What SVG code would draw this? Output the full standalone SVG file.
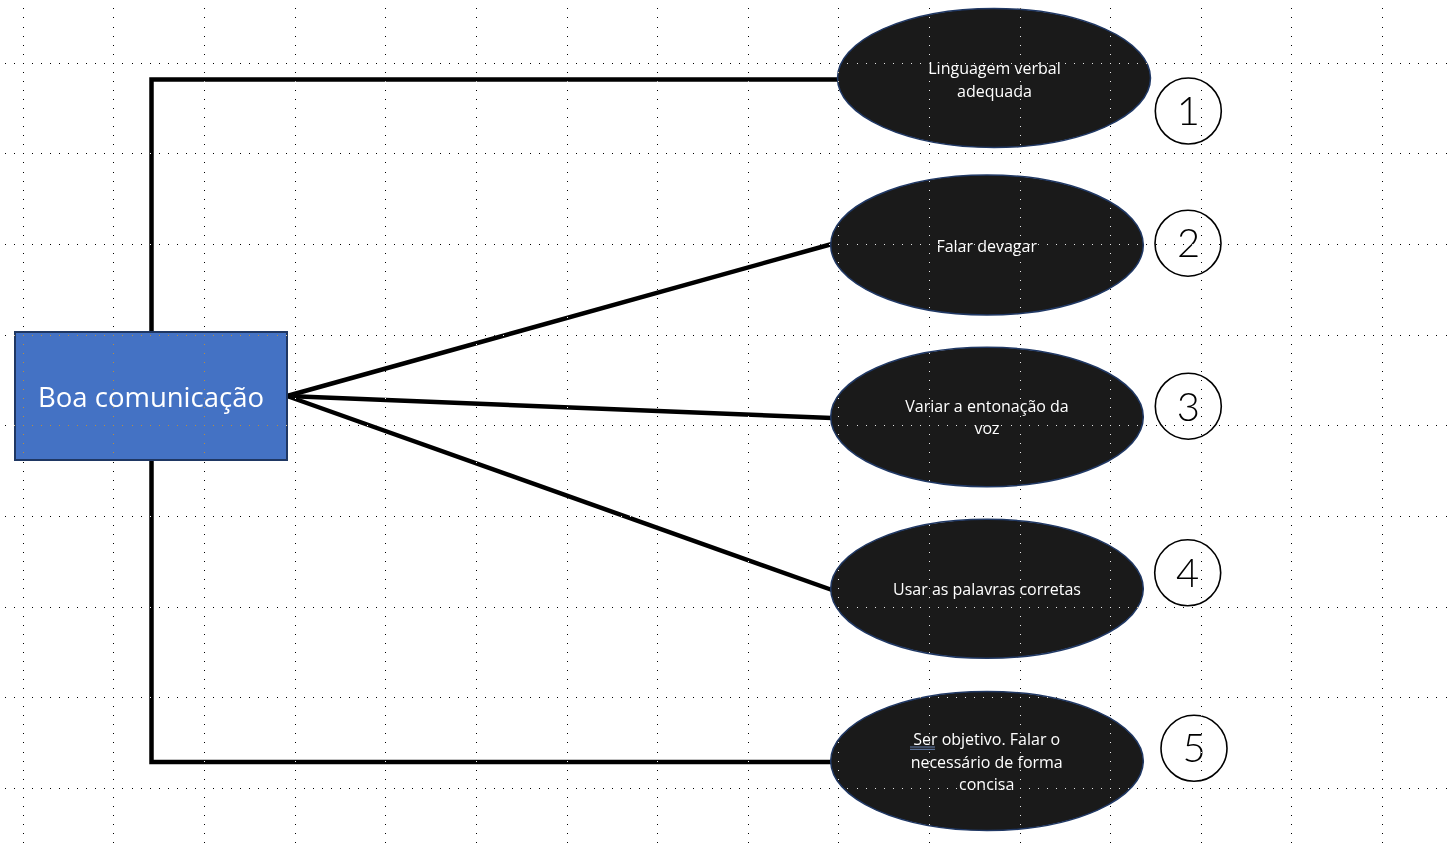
<svg xmlns="http://www.w3.org/2000/svg" width="1450" height="843" viewBox="0 0 1450 843">
<style>
.conn{fill:none;stroke:#000;stroke-width:4.5;stroke-linejoin:miter}
.oval{fill:#1a1a1a;stroke:#203864;stroke-width:1.5}
.otxt{font-family:"Open Sans","Noto Sans",sans-serif;font-size:16px;fill:#fff;text-anchor:middle}
.num{fill:#fff;stroke:#000;stroke-width:1.6}
.ntxt{font-family:Lato,"Roboto",sans-serif;font-weight:300;font-size:40px;fill:#000;text-anchor:middle}
.gh{stroke:#fff;stroke-width:1;stroke-dasharray:1 8.062;fill:none}
</style>
<rect x="0" y="0" width="1450" height="843" fill="#fff"/>
<g id="connectors">
<path class="conn" d="M151.5 332 V79.5 H839"/>
<path class="conn" d="M151.5 460 V762 H832"/>
<path class="conn" d="M287 396 L832 244"/>
<path class="conn" d="M287 396 L832 418"/>
<path class="conn" d="M287 396 L832 590"/>
</g>
<g id="root">
<rect x="15" y="332" width="272" height="128" fill="#4472c4" stroke="#1f3763" stroke-width="2"/>
<text x="151" y="407" font-family="Open Sans,Noto Sans,sans-serif" font-size="27.5" fill="#fff" text-anchor="middle">Boa comunicação</text>
</g>
<g id="n1">
<ellipse class="oval" cx="994" cy="78" rx="156.5" ry="69.5"/>
<text class="otxt" x="994.5" y="74">Linguagem verbal</text>
<text class="otxt" x="994.5" y="97">adequada</text>
</g>
<g id="n2">
<ellipse class="oval" cx="987" cy="245" rx="156.3" ry="70"/>
<text class="otxt" x="986.7" y="251.5">Falar devagar</text>
</g>
<g id="n3">
<ellipse class="oval" cx="987" cy="417" rx="156.3" ry="69.7"/>
<text class="otxt" x="987" y="411.7">Variar a entonação da</text>
<text class="otxt" x="987" y="434.3">voz</text>
</g>
<g id="n4">
<ellipse class="oval" cx="987" cy="588.8" rx="156.3" ry="69.5"/>
<text class="otxt" x="987" y="595">Usar as palavras corretas</text>
</g>
<g id="n5">
<ellipse class="oval" cx="987" cy="761" rx="156.3" ry="69.5"/>
<text class="otxt" x="986.7" y="745">Ser objetivo. Falar o</text>
<text class="otxt" x="986.7" y="767.5">necessário de forma</text>
<text class="otxt" x="986.7" y="790">concisa</text>
<path d="M910 747 H935 M910 749.3 H935" stroke="#7f9fd9" stroke-width="0.8" fill="none"/>
</g>
<g id="b1"><circle class="num" cx="1188.3" cy="111" r="33"/><text class="ntxt" x="1188.3" y="125">1</text></g>
<g id="b2"><circle class="num" cx="1188" cy="243.2" r="33"/><text class="ntxt" x="1188.5" y="257">2</text></g>
<g id="b3"><circle class="num" cx="1188.3" cy="406.2" r="33"/><text class="ntxt" x="1188.3" y="421">3</text></g>
<g id="b4"><circle class="num" cx="1187.7" cy="572.8" r="33"/><text class="ntxt" x="1187.7" y="587">4</text></g>
<g id="b5"><circle class="num" cx="1194" cy="748.3" r="33"/><text class="ntxt" x="1194" y="762">5</text></g>
<g id="grid" style="mix-blend-mode:difference" shape-rendering="crispEdges">
<path class="gh" d="M-4.39 63.3 H1450 M-4.39 153.92 H1450 M-4.39 244.54 H1450 M-4.39 335.16 H1450 M-4.39 425.78 H1450 M-4.39 516.4 H1450 M-4.39 607.02 H1450 M-4.39 697.64 H1450 M-4.39 788.26 H1450"/>
<path class="gh" d="M23.3 -0.63 V843 M113.92 -0.63 V843 M204.54 -0.63 V843 M295.16 -0.63 V843 M385.78 -0.63 V843 M476.4 -0.63 V843 M567.02 -0.63 V843 M657.64 -0.63 V843 M748.26 -0.63 V843 M838.88 -0.63 V843 M929.5 -0.63 V843 M1020.12 -0.63 V843 M1110.74 -0.63 V843 M1201.36 -0.63 V843 M1291.98 -0.63 V843 M1382.6 -0.63 V843"/>
</g>
</svg>
